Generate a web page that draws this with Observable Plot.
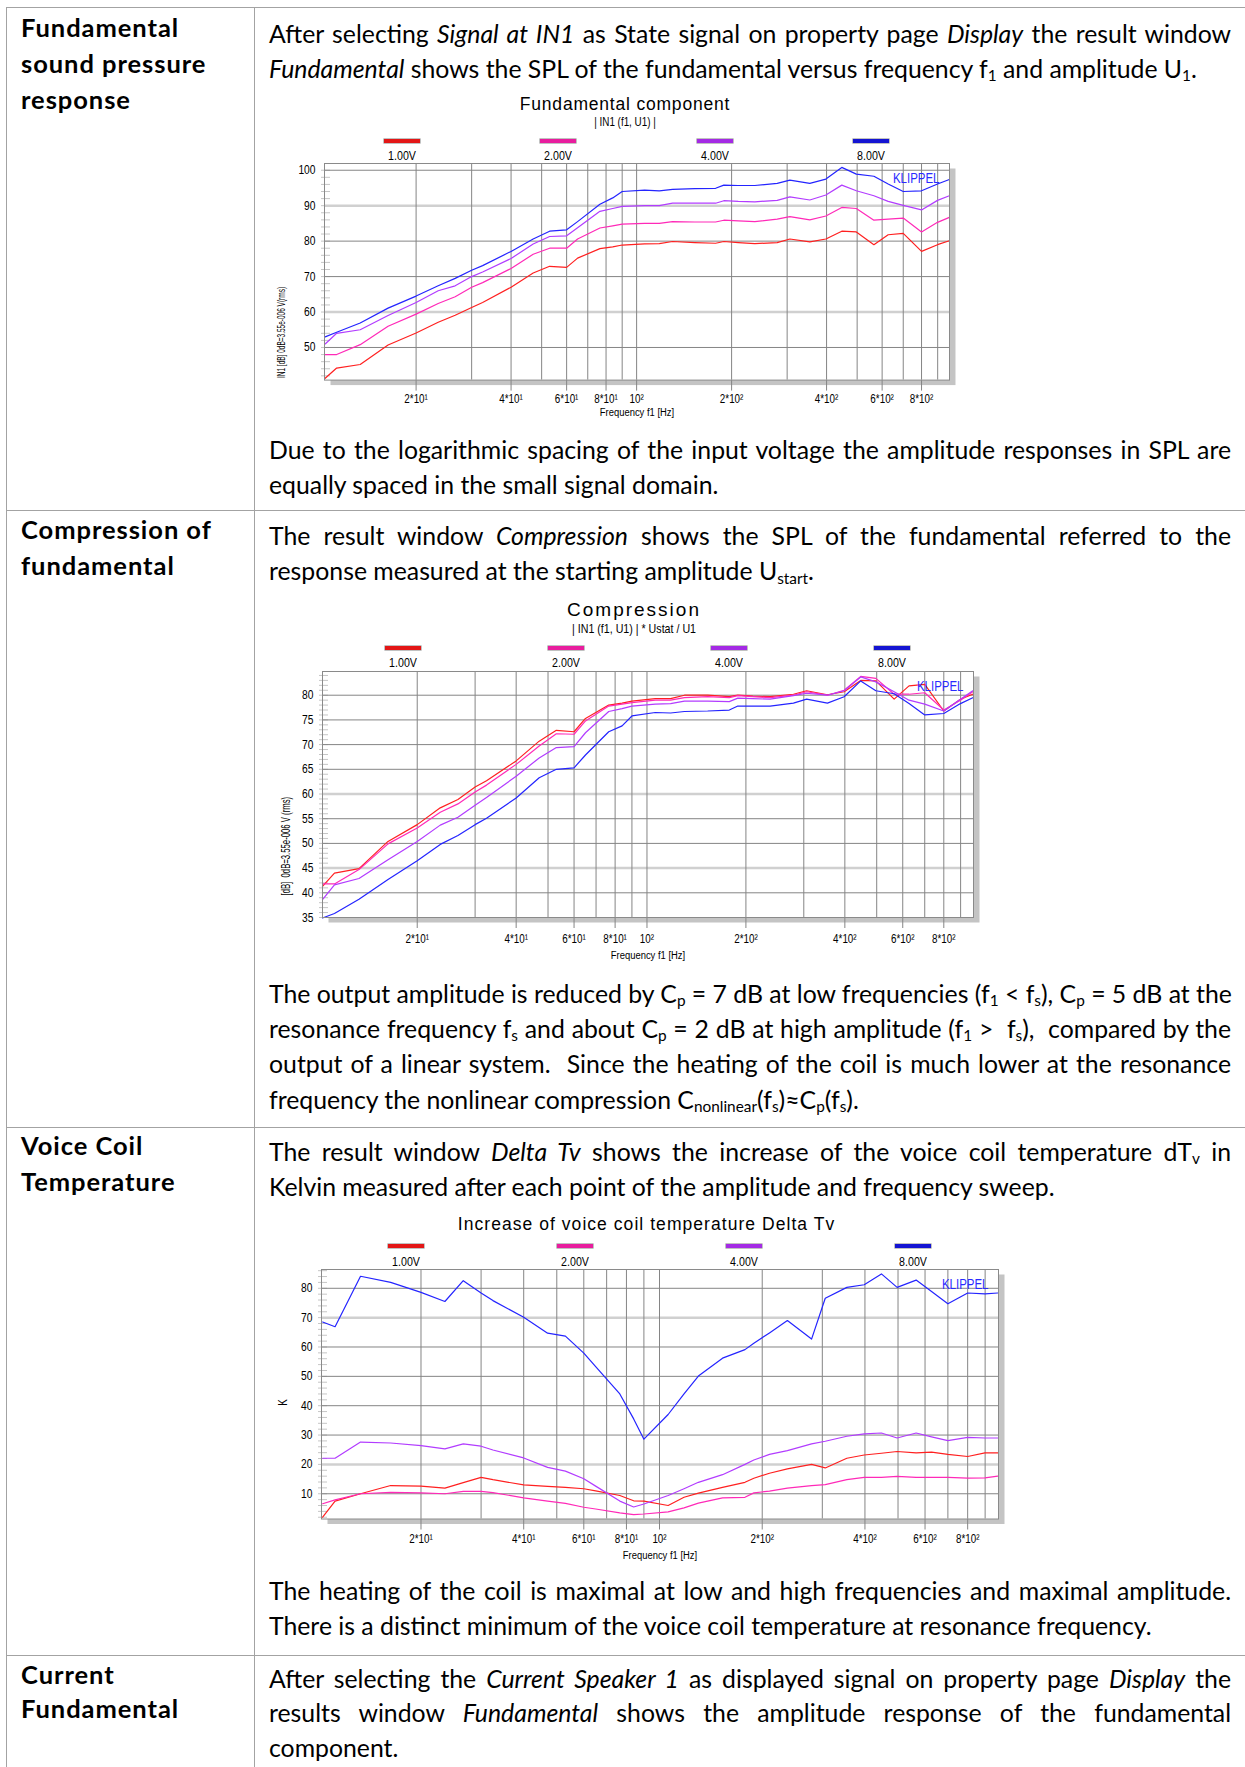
<!DOCTYPE html>
<html><head><meta charset="utf-8">
<script src="https://cdn.jsdelivr.net/npm/d3@7"></script>
<script src="https://cdn.jsdelivr.net/npm/@observablehq/plot@0.6"></script>
<style>
body{margin:0;background:#fff;}
#page{position:relative;width:1245px;height:1767px;overflow:hidden;background:#fff;font-family:Lato,"Open Sans",sans-serif;color:#000;}
.hl{position:absolute;height:1px;background:#a3a3a3;}
.vl{position:absolute;width:1px;background:#a3a3a3;}
.ln{position:absolute;left:269px;width:962px;font-size:24.8px;line-height:36px;white-space:nowrap;}
.ln.j{text-align:justify;text-align-last:justify;}
.lb{position:absolute;left:21px;font-weight:700;font-size:25.5px;letter-spacing:0.95px;line-height:36px;white-space:nowrap;}
sub{font-size:0.62em;vertical-align:baseline;position:relative;top:0.22em;line-height:0;}
.ct{position:absolute;transform:translate(-50%,-50%);white-space:nowrap;line-height:1;}
.nr{position:absolute;transform:translate(-50%,-50%) scaleX(0.82);white-space:nowrap;line-height:1;}
.sw{position:absolute;height:4px;width:36px;transform:translate(-50%,-50%);box-shadow:0 0 0 0.6px #999;}
.chart{position:absolute;}
</style></head>
<body><div id="page"></div>
<script>
// ---------------- data ----------------
const freq = [10.3, 11.2, 13.3, 16.3, 20, 23.5, 26.6, 30, 32.5, 40, 47, 53, 60, 65, 76.5, 84, 90, 106, 118, 130, 153, 178, 189, 210, 237, 279, 306, 354, 398, 447, 497, 565, 627, 700, 800, 899, 980];
const voltages = ["1.00V", "2.00V", "4.00V", "8.00V"];

// Fundamental component |IN1(f1,U1)| [dB]
const fund_1V = [41.3,44.2,45.2,50.7,54.1,57.1,59.1,61.3,62.7,67.0,71.0,72.9,72.6,75.2,77.9,78.4,78.9,79.2,79.3,79.9,79.6,79.4,79.9,79.6,79.3,79.6,80.6,79.8,80.6,82.8,82.6,79.0,81.8,82.2,77.1,79.0,80.1];
const fund_2V = [48.0,48.0,50.8,56.0,59.4,62.4,64.3,67.0,68.3,72.3,76.3,78.0,78.0,80.6,83.7,84.3,84.8,85.0,85.0,85.5,85.4,85.4,85.9,85.7,85.5,86.2,86.9,86.0,87.1,89.5,89.2,85.9,86.2,86.5,82.6,85.3,86.7];
const fund_4V = [51.0,54.0,55.0,59.0,62.7,66.0,67.4,70.0,71.3,75.1,79.2,81.3,81.5,83.8,88.4,89.2,89.8,90.0,90.0,90.7,90.7,90.7,91.4,91.2,91.1,91.5,92.5,91.6,93.0,95.8,94.2,92.8,91.2,90.1,88.8,91.5,92.8];
const fund_8V = [53.0,54.3,56.9,61.1,64.5,67.4,69.5,71.8,73.1,77.1,80.6,82.8,83.2,85.5,90.4,92.2,94.0,94.4,94.2,94.6,94.8,94.9,95.8,95.7,95.7,96.3,97.2,96.3,97.5,100.8,98.9,98.3,96.1,94.0,94.2,96.1,97.4];

// Compression |IN1(f1,U1)| * Ustart/U1 [dB]
const comp_1V = [41.3,44.0,44.9,50.4,53.8,57.2,58.9,61.4,62.7,66.7,70.7,72.9,72.6,75.3,78.0,78.4,78.8,79.3,79.3,80.0,80.0,79.7,80.0,79.8,79.7,80.2,80.9,80.1,80.7,83.0,82.9,79.2,81.9,82.2,76.8,79.2,80.2];
const comp_2V = [41.8,41.8,44.7,49.9,53.1,56.3,58.0,60.4,61.8,66.0,69.7,72.2,72.1,74.8,77.8,78.2,78.5,79.0,79.0,79.5,79.7,79.5,79.9,79.7,79.5,80.0,80.7,80.0,81.0,83.8,83.4,80.2,80.2,80.5,77.0,79.0,80.7];
const comp_4V = [38.6,41.6,42.9,46.7,50.4,53.7,55.3,57.7,59.3,63.6,67.3,69.4,69.6,72.4,76.7,77.3,77.8,78.2,78.3,78.8,78.8,78.7,79.4,79.3,79.2,79.9,80.4,80.0,80.9,83.7,82.7,80.7,79.0,78.2,76.8,79.2,80.9];
const comp_8V = [34.9,35.8,38.7,42.7,46.5,49.8,51.6,53.8,55.1,59.2,63.3,65.0,65.3,67.9,72.6,73.8,75.8,76.5,76.4,76.7,76.8,77.0,77.8,77.8,77.8,78.4,79.2,78.4,79.7,82.9,80.9,80.3,78.3,76.0,76.3,78.3,79.5];

// Increase of voice coil temperature Delta Tv [K]
const temp_1V = [2.0,7.5,10.0,12.8,12.6,11.9,13.8,15.6,14.8,13.0,12.5,12.2,11.7,11.0,9.4,7.6,7.5,6.0,8.8,10.2,12.2,13.9,15.3,17.0,18.5,20.0,18.8,22.1,23.2,23.8,24.4,23.9,24.2,23.4,22.7,23.9,23.9];
const temp_2V = [6.6,7.9,10.0,10.5,10.3,10.0,10.8,10.8,10.4,8.6,7.5,6.7,5.4,4.8,3.5,2.9,3.1,3.8,5.2,6.8,8.6,8.8,10.3,10.9,11.9,12.8,13.1,14.8,15.6,15.6,15.9,15.6,15.6,15.6,15.3,15.4,16.0];
const temp_4V = [22.1,22.1,27.6,27.3,26.4,25.3,27.0,26.2,24.9,22.2,19.0,17.7,15.1,12.6,7.5,5.5,6.5,9.4,11.7,13.9,16.5,20.0,21.5,23.4,24.7,27.0,27.9,29.6,30.4,30.7,29.0,30.7,29.4,28.1,29.2,29.0,29.0];
const temp_8V = [68.5,66.9,84.1,82.0,78.6,75.5,82.6,78.4,75.8,70.1,64.7,63.7,57.9,53.3,44.0,35.5,28.6,37.0,44.0,50.1,56.2,59.1,61.3,64.8,69.0,62.7,76.6,80.3,81.2,84.9,80.3,82.8,78.9,74.7,78.4,78.1,78.4];

// axes
const xTickValues = [20, 40, 60, 80, 100, 200, 400, 600, 800];
const xTickLabels = ["2*10¹", "4*10¹", "6*10¹", "8*10¹", "10²", "2*10²", "4*10²", "6*10²", "8*10²"];
const xGridValues = [20, 30, 40, 50, 60, 70, 80, 90, 100, 200, 300, 400, 500, 600, 700, 800, 900];
const yTicksFund = [50, 60, 70, 80, 90, 100];
const yTicksComp = [35, 40, 45, 50, 55, 60, 65, 70, 75, 80];
const yTicksTemp = [10, 20, 30, 40, 50, 60, 70, 80];

// ---------------- page ----------------
const page = document.getElementById("page");
const REG = "'Liberation Sans',Arial,sans-serif";
const lineColors = ["#ff2020", "#ff2ab8", "#b23cff", "#2424ff"];
const swatchColors = ["#e31616", "#e81d9e", "#a42ae4", "#1414d2"];

function el(tag, cls, style, html) {
  const e = document.createElement(tag);
  if (cls) e.className = cls;
  Object.assign(e.style, style || {});
  if (html != null) e.innerHTML = html;
  page.appendChild(e);
  return e;
}
// table rules
el("div", "hl", {left: "6px", top: "7px", width: "1239px"});
[510, 1127, 1655].forEach(y => el("div", "hl", {left: "6px", top: y + "px", width: "1239px"}));
el("div", "vl", {left: "6px", top: "7px", height: "1760px"});
el("div", "vl", {left: "254px", top: "7px", height: "1760px"});

function place(cls, mid, html, fs) {
  el("div", cls, {top: (mid - 18 - 0.117 * fs) + "px"}, html);
}
const labels = [
  [30, "Fundamental"], [66, "sound pressure"], [102, "response"],
  [531.5, "Compression of"], [567.6, "fundamental"],
  [1147.8, "Voice Coil"], [1183.9, "Temperature"],
  [1676.7, "Current"], [1710.8, "Fundamental"]
];
labels.forEach(([y, t]) => place("lb", y, t, 25.5));
const lines = [
  [36.7, true, "After selecting <i>Signal at IN1</i> as State signal on property page <i>Display</i> the result window"],
  [72, false, "<i>Fundamental</i> shows the SPL of the fundamental versus frequency f<sub>1</sub> and amplitude U<sub>1</sub>."],
  [453, true, "Due to the logarithmic spacing of the input voltage the amplitude responses in SPL are"],
  [488.3, false, "equally spaced in the small signal domain."],
  [539.4, true, "The result window <i>Compression</i> shows the SPL of the fundamental referred to the"],
  [574.4, false, "response measured at the starting amplitude U<sub>start</sub>."],
  [996.9, true, "The output amplitude is reduced by C<sub>p</sub> = 7 dB at low frequencies (f<sub>1</sub> &lt; f<sub>s</sub>), C<sub>p</sub> = 5 dB at the"],
  [1031.8, true, "resonance frequency f<sub>s</sub> and about C<sub>p</sub> = 2 dB at high amplitude (f<sub>1</sub> &gt;&nbsp; f<sub>s</sub>),&nbsp; compared by the"],
  [1066.7, true, "output of a linear system.&nbsp; Since the heating of the coil is much lower at the resonance"],
  [1102.8, false, "frequency the nonlinear compression C<sub>nonlinear</sub>(f<sub>s</sub>)≈C<sub>p</sub>(f<sub>s</sub>)."],
  [1154.6, true, "The result window <i>Delta Tv</i> shows the increase of the voice coil temperature dT<sub>v</sub> in"],
  [1189.5, false, "Kelvin measured after each point of the amplitude and frequency sweep."],
  [1594, true, "The heating of the coil is maximal at low and high frequencies and maximal amplitude."],
  [1629, false, "There is a distinct minimum of the voice coil temperature at resonance frequency."],
  [1681.7, true, "After selecting the <i>Current Speaker 1</i> as displayed signal on property page <i>Display</i> the"],
  [1716.3, true, "results window <i>Fundamental</i> shows the amplitude response of the fundamental"],
  [1751.3, false, "component."]
];
lines.forEach(([y, j, h]) => place(j ? "ln j" : "ln", y, h, 24.8));

// ---------------- charts ----------------
function condense(svg) {
  svg.querySelectorAll("text").forEach(t => {
    const s = /0dB/.test(t.textContent) ? 0.62 : 0.82;
    const ax = parseFloat(t.getAttribute("x")) || 0;
    const tr = t.getAttribute("transform") || "";
    t.setAttribute("transform", `${tr} translate(${ax},0) scale(${s},1) translate(${-ax},0)`);
  });
}
function chart(c) {
  const fw = c.right - c.left, fh = c.bottom - c.top;
  el("div", "ct", {left: c.titleX + "px", top: c.titleY + "px", fontFamily: REG, fontSize: c.titleSize + "px", letterSpacing: c.titleSpacing + "px"}, c.title);
  if (c.subtitle) el("div", "nr", {left: c.titleX + "px", top: c.subY + "px", fontFamily: REG, fontSize: c.subSize + "px"}, c.subtitle);
  voltages.forEach((v, i) => {
    const cx = c.left + fw * (2 * i + 1) / 8;
    el("div", "sw", {left: cx + "px", top: c.swY + "px", background: swatchColors[i]});
    el("div", "nr", {left: cx + "px", top: c.legY + "px", fontFamily: REG, fontSize: "13px"}, v);
  });
  const svgLeft = 256, mr = 16, mt = 10, mb = 50;
  const svgTop = c.top - mt;
  const width = c.right + mr - svgLeft;
  const height = c.bottom + mb - svgTop;
  const labMap = new Map(xTickValues.map((d, i) => [d, xTickLabels[i]]));
  const darkY = c.yTicks.filter(d => !c.lightY.includes(d));
  const minor = d3.range(Math.ceil(c.ydom[0] / c.minorStep) * c.minorStep, c.ydom[1], c.minorStep);
  const marks = [
    Plot.frame({fill: "#c4c4c4", insetLeft: 6, insetTop: 5, insetRight: -6, insetBottom: -5}),
    Plot.frame({fill: "#fff"}),
    Plot.tickY(minor, {y: d => d, stroke: "#c6c6c6", insetLeft: -3, insetRight: fw - 6}),
    Plot.ruleY(c.lightY, {stroke: "#d0d0d0", strokeWidth: 2.5}),
    Plot.ruleY(darkY, {stroke: "#858585"}),
    Plot.ruleX(xGridValues, {stroke: "#858585"}),
    Plot.tickX(xTickValues, {x: d => d, stroke: "#858585", insetTop: fh, insetBottom: -11}),
    Plot.text(xTickValues, {x: d => d, text: d => labMap.get(d), frameAnchor: "bottom", dy: c.xTickDy, fontSize: 12}),
    Plot.text(c.yTicks, {y: d => d, text: d => String(d), frameAnchor: "left", textAnchor: "end", dx: -9, fontSize: 12.5}),
    ...c.series.map((s, i) => Plot.line(freq.map((f, k) => ({f, v: s[k]})), {x: "f", y: "v", stroke: lineColors[i], strokeWidth: 1.2})),
    Plot.frame({stroke: "#8a8a8a"}),
    Plot.text(["KLIPPEL"], {text: d => d, frameAnchor: "top-right", textAnchor: "end", dx: -10, dy: 10, fill: "#2a2aff", fontSize: 14}),
    Plot.text(["Frequency f1 [Hz]"], {text: d => d, frameAnchor: "bottom", dy: c.xLabDy, fontSize: 11.5}),
    c.yLabelMark
  ];
  const p = Plot.plot({
    width, height,
    marginLeft: c.left - svgLeft, marginRight: mr, marginTop: mt, marginBottom: mb,
    style: {fontFamily: REG, fontSize: "12px", color: "#000", background: "transparent", overflow: "visible"},
    x: {type: "log", domain: c.xdom, axis: null},
    y: {domain: c.ydom, axis: null},
    marks
  });
  condense(p);
  const box = el("div", "chart", {left: svgLeft + "px", top: svgTop + "px"});
  box.appendChild(p);
}

chart({
  left: 324, right: 949, top: 162.7, bottom: 379.3, xdom: [10.25, 981], ydom: [40.8, 101.9],
  yTicks: yTicksFund, lightY: [90, 60], minorStep: 2, xTickDy: 22.7, xLabDy: 36,
  title: "Fundamental component", titleX: 625, titleY: 105, titleSize: 17.5, titleSpacing: 0.8,
  subtitle: "| IN1 (f1, U1) |", subSize: 12, subY: 122, swY: 141, legY: 155,
  series: [fund_1V, fund_2V, fund_4V, fund_8V],
  yLabelMark: Plot.text(["IN1 [dB] 0dB=3.55e-006 V(rms)"], {text: d => d, frameAnchor: "bottom-left", rotate: -90, textAnchor: "start", dx: -40, dy: -2, fontSize: 10.5})
});
chart({
  left: 322, right: 973, top: 670.7, bottom: 916.7, xdom: [10.3, 985], ydom: [35, 84.8],
  yTicks: yTicksComp, lightY: [60, 45], minorStep: 1, xTickDy: 25.3, xLabDy: 41.6,
  title: "Compression", titleX: 634, titleY: 609, titleSize: 19, titleSpacing: 2,
  subtitle: "| IN1 (f1, U1) | * Ustat / U1", subSize: 13, subY: 628, swY: 648, legY: 662,
  series: [comp_1V, comp_2V, comp_4V, comp_8V],
  yLabelMark: Plot.text(["[dB]  0dB=3.55e-006 V (rms)"], {text: d => d, frameAnchor: "bottom-left", rotate: -90, textAnchor: "start", dx: -33, dy: -22, fontSize: 12.5})
});
chart({
  left: 321, right: 998, top: 1269, bottom: 1518.5, xdom: [10.22, 985], ydom: [1.4, 86.4],
  yTicks: yTicksTemp, lightY: [70, 20], minorStep: 2, xTickDy: 23.5, xLabDy: 39.5,
  title: "Increase of voice coil temperature Delta Tv", titleX: 646.5, titleY: 1225, titleSize: 17.5, titleSpacing: 1.05,
  subtitle: null, swY: 1246, legY: 1261,
  series: [temp_1V, temp_2V, temp_4V, temp_8V],
  yLabelMark: Plot.text([{y: 40, t: "K"}], {y: "y", text: "t", frameAnchor: "left", rotate: -90, dx: -38, fontSize: 12})
});
</script>
</body></html>
